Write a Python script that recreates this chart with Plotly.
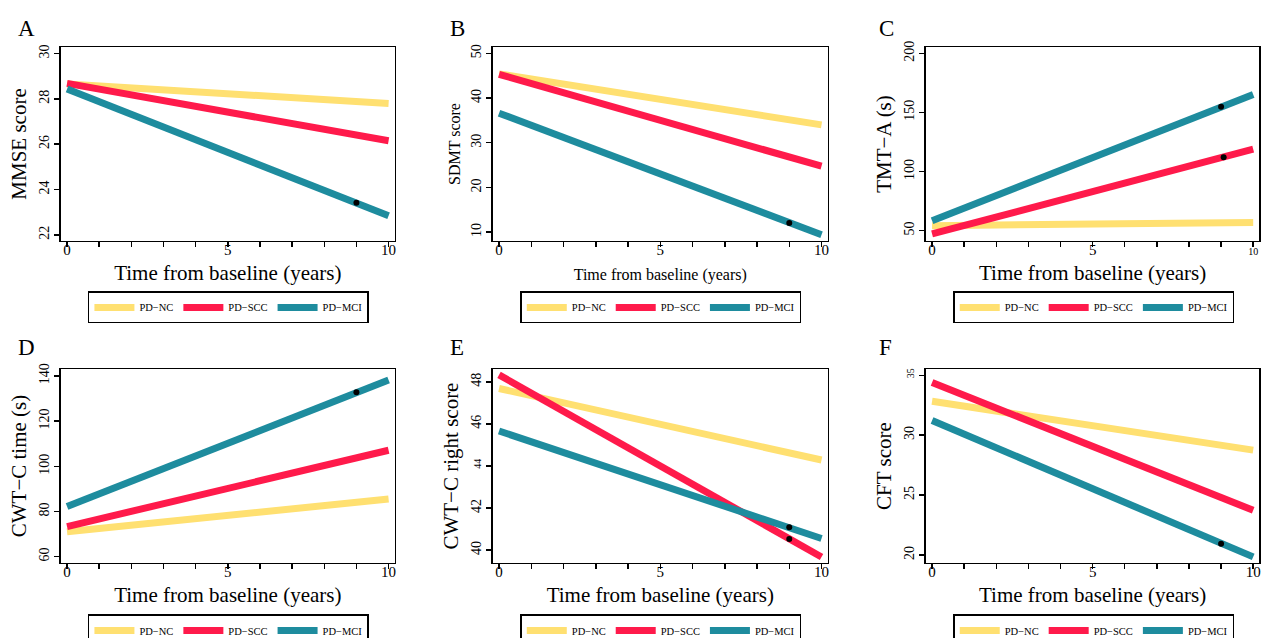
import plotly.graph_objects as go

# ---------------- data ----------------
time = [0, 10]
groups = ["PD\u2212NC", "PD\u2212SCC", "PD\u2212MCI"]

mmse_nc = [28.65, 27.80]
mmse_scc = [28.68, 26.15]
mmse_mci = [28.43, 22.85]

sdmt_nc = [45.4, 34.0]
sdmt_scc = [45.3, 24.75]
sdmt_mci = [36.6, 9.45]

tmta_nc = [54.2, 57.0]
tmta_scc = [47.2, 119.0]
tmta_mci = [58.4, 165.1]

cwtc_time_nc = [71.0, 85.5]
cwtc_time_scc = [73.3, 107.1]
cwtc_time_mci = [82.2, 138.2]

cwtc_right_nc = [47.68, 44.28]
cwtc_right_scc = [48.33, 39.67]
cwtc_right_mci = [45.66, 40.55]

cft_nc = [32.83, 28.75]
cft_scc = [34.4, 23.73]
cft_mci = [31.23, 19.84]

# black dots (observed points)
mmse_dot_x, mmse_dot_y = [9.0], [23.42]
sdmt_dot_x, sdmt_dot_y = [9.0], [12.06]
tmta_dot_x, tmta_dot_y = [9.0, 9.08], [154.7, 112.0]
cwtc_time_dot_x, cwtc_time_dot_y = [9.0], [132.8]
cwtc_right_dot_x, cwtc_right_dot_y = [9.0, 9.0], [41.08, 40.52]
cft_dot_x, cft_dot_y = [9.0], [20.94]

x_tick_marks = list(range(0, 11))
x_label_vals = [0, 5, 10]
x_label_text = ["0", "5", "10"]

mmse_ticks = [22, 24, 26, 28, 30]
sdmt_ticks = [10, 20, 30, 40, 50]
tmta_ticks = [50, 100, 150, 200]
cwtc_time_ticks = [60, 80, 100, 120, 140]
cwtc_right_ticks = [40, 42, 44, 46, 48]
cft_ticks = [20, 25, 30, 35]

# ---------------- style ----------------
# The page is 1261 x 638; the figure is made a little taller so that the
# bottom legends can run past the visible edge (as in the reference)
# without plotly shrinking the plot areas.
W, H = 1261, 660
FONT = "Liberation Serif, Times New Roman, serif"
COLORS = ["#FFE071", "#FF1A4B", "#1E8C9E"]

def fx(p):
    return p / W

def fy(p):
    return 1 - p / H

panels = [
    dict(letter="A", series=[mmse_nc, mmse_scc, mmse_mci], dots=(mmse_dot_x, mmse_dot_y),
         yticks=mmse_ticks, ytitle="MMSE score", yrange=[21.74, 30.28],
         xd=(61, 395), yd=(41.5, 237), tsize=21, letter_xy=(16, 23), leg=(88, 288),
         small_ytick=None, small_xtick=False),
    dict(letter="B", series=[sdmt_nc, sdmt_scc, sdmt_mci], dots=(sdmt_dot_x, sdmt_dot_y),
         yticks=sdmt_ticks, ytitle="SDMT score", yrange=[8.07, 51.37],
         xd=(493.3, 828.3), yd=(41.5, 237), tsize=16, letter_xy=(448, 23), leg=(520.7, 288),
         small_ytick=None, small_xtick=False),
    dict(letter="C", series=[tmta_nc, tmta_scc, tmta_mci], dots=(tmta_dot_x, tmta_dot_y),
         yticks=tmta_ticks, ytitle="TMT\u2212A (s)", yrange=[41.4, 205.2],
         xd=(926.7, 1260.3), yd=(41.5, 237), tsize=21, letter_xy=(878, 23), leg=(954, 288),
         small_ytick=None, small_xtick=True),
    dict(letter="D", series=[cwtc_time_nc, cwtc_time_scc, cwtc_time_mci], dots=(cwtc_time_dot_x, cwtc_time_dot_y),
         yticks=cwtc_time_ticks, ytitle="CWT\u2212C time (s)", yrange=[57.24, 142.98],
         xd=(61, 395), yd=(366.5, 562), tsize=21, letter_xy=(16, 345), leg=(88, 614),
         small_ytick=None, small_xtick=False),
    dict(letter="E", series=[cwtc_right_nc, cwtc_right_scc, cwtc_right_mci], dots=(cwtc_right_dot_x, cwtc_right_dot_y),
         yticks=cwtc_right_ticks, ytitle="CWT\u2212C right score", yrange=[39.39, 48.60],
         xd=(493.3, 828.3), yd=(366.5, 562), tsize=21, letter_xy=(448, 345), leg=(520.7, 614),
         small_ytick=44, small_xtick=False),
    dict(letter="F", series=[cft_nc, cft_scc, cft_mci], dots=(cft_dot_x, cft_dot_y),
         yticks=cft_ticks, ytitle="CFT score", yrange=[19.34, 35.51],
         xd=(926.7, 1260.3), yd=(366.5, 562), tsize=21, letter_xy=(878, 345), leg=(954, 614),
         small_ytick=35, small_xtick=False),
]

fig = go.Figure()
layout = dict(
    width=W, height=H, margin=dict(l=0, r=0, t=0, b=0),
    paper_bgcolor="white", plot_bgcolor="white",
    font=dict(family=FONT, color="black"),
    showlegend=True, annotations=[],
)
XR = [-0.19, 10.19]
NP = len(panels)

for i, p in enumerate(panels):
    n = "" if i == 0 else str(i + 1)
    xa, ya = "x" + n, "y" + n
    lab_n = str(i + 1 + NP)          # companion x axis: tick labels + title + dots
    xlab = "x" + lab_n
    leg = "legend" + n
    for g, vals, col in zip(groups, p["series"], COLORS):
        fig.add_trace(go.Scatter(
            x=time, y=vals, mode="lines", name=g,
            line=dict(color=col, width=7),
            xaxis=xa, yaxis=ya, legend=leg, showlegend=True, hoverinfo="skip"))
    # dots live on the companion axis (same domain and range), drawn on top
    fig.add_trace(go.Scatter(
        x=p["dots"][0], y=p["dots"][1], mode="markers",
        marker=dict(color="black", size=6), xaxis=xlab, yaxis=ya,
        showlegend=False, hoverinfo="skip"))

    xt = list(x_label_text)
    if p["small_xtick"]:
        xt[-1] = "<span style='font-size:10px'>10</span>"
    yt = [("<span style='font-size:10px'>%d</span>" % v) if v == p["small_ytick"] else str(v)
          for v in p["yticks"]]

    axis_common = dict(showline=True, linecolor="black", linewidth=1.5, mirror=True,
                       showgrid=False, zeroline=False, ticks="outside", ticklen=5,
                       tickwidth=1.5, tickcolor="black", fixedrange=True)
    xdom = [fx(p["xd"][0]), fx(p["xd"][1])]
    # main x axis: box + tick marks at every year
    layout["xaxis" + n] = dict(
        axis_common, domain=xdom, range=XR, anchor=ya,
        tickvals=x_tick_marks, ticktext=[""] * len(x_tick_marks))
    # companion axis: tick labels and title only
    layout["xaxis" + lab_n] = dict(
        domain=xdom, range=XR, anchor=ya, overlaying=xa, side="bottom",
        showline=False, showgrid=False, zeroline=False, ticks="", ticklen=0,
        fixedrange=True, ticklabelstandoff=-2,
        tickvals=x_label_vals, ticktext=xt, tickfont=dict(size=15, family=FONT),
        title=dict(text="Time from baseline (years)", font=dict(size=p["tsize"], family=FONT),
                   standoff=8 if p["tsize"] > 18 else 11))
    layout["yaxis" + n] = dict(
        axis_common, domain=[fy(p["yd"][1]), fy(p["yd"][0])], range=p["yrange"],
        anchor=xa, tickvals=p["yticks"], ticktext=yt, tickangle=-90,
        tickfont=dict(size=14, family=FONT),
        title=dict(text=p["ytitle"], font=dict(size=p["tsize"], family=FONT), standoff=4))
    layout[leg] = dict(
        x=fx(p["leg"][0]), y=fy(p["leg"][1]), xanchor="left", yanchor="top",
        orientation="h", bgcolor="white", bordercolor="black", borderwidth=1.5,
        font=dict(size=10.5, family=FONT), itemwidth=40, itemclick=False, itemdoubleclick=False)
    layout["annotations"].append(dict(
        text=p["letter"], x=fx(p["letter_xy"][0]), y=fy(p["letter_xy"][1]),
        xref="paper", yref="paper", xanchor="left", yanchor="middle",
        showarrow=False, font=dict(size=23, family=FONT)))

fig.update_layout(**layout)
fig.write_html(
    "out.html",
    config={"displayModeBar": False, "staticPlot": True},
    post_script="document.body.style.margin='0px';document.body.style.overflow='hidden';",
)
